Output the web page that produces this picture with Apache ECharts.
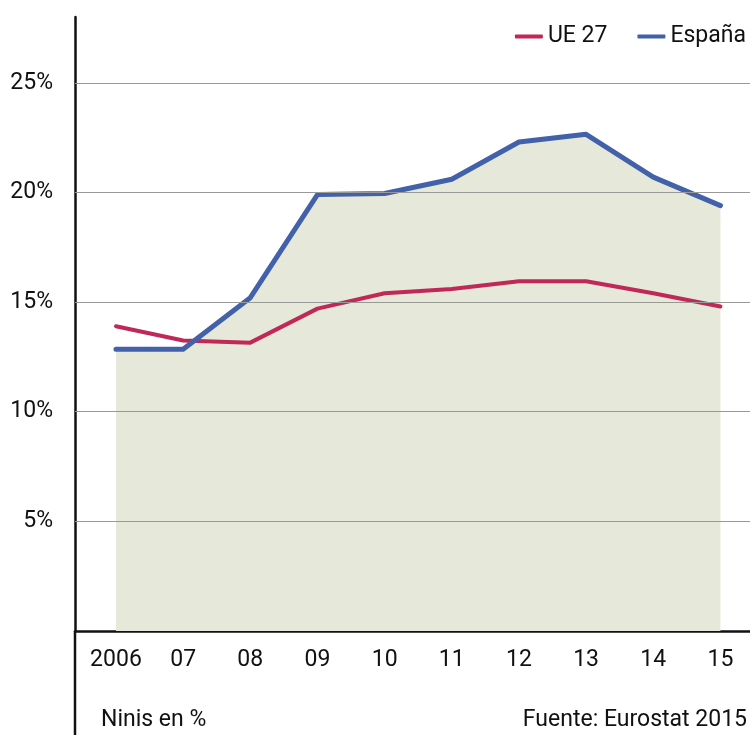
<!DOCTYPE html>
<html>
<head>
<meta charset="utf-8">
<script src="https://cdn.jsdelivr.net/npm/echarts@6/dist/echarts.min.js"></script>
<style>
  html, body { margin: 0; padding: 0; background: #fff; }
  #chart { width: 750px; height: 735px; }
</style>
</head>
<body>
<div id="chart"></div>
<script>
// Jóvenes que ni estudian ni trabajan (%), 2006-2015
const years = ['2006', '07', '08', '09', '10', '11', '12', '13', '14', '15'];
const ue27 = [13.9, 13.25, 13.15, 14.7, 15.4, 15.6, 15.95, 15.95, 15.4, 14.8];
const espana = [12.85, 12.85, 15.2, 19.9, 19.95, 20.6, 22.3, 22.65, 20.7, 19.4];
const yTicks = [5, 10, 15, 20, 25];

const FONT = "'Roboto', sans-serif";
const RED = '#c02857';
const BLUE = '#4261a8';
const FILL = '#e6e8da';
const X_MIN = -0.61;

const toPairs = arr => arr.map((v, i) => [i, v]);

const chart = echarts.init(document.getElementById('chart'), null, { renderer: 'canvas' });

chart.setOption({
  animation: false,
  textStyle: { fontFamily: FONT },
  grid: { left: 75, right: 0, top: 17, bottom: 104, containLabel: false },
  title: [
    { text: 'Ninis en %', left: 96, top: 704,
      textStyle: { fontFamily: FONT, fontSize: 23, fontWeight: 'normal', color: '#111' } },
    { text: 'Fuente: Eurostat 2015', right: -2, top: 704,
      textStyle: { fontFamily: FONT, fontSize: 23, fontWeight: 'normal', color: '#111' } }
  ],
  legend: {
    data: ['UE 27', 'España'],
    right: -1, top: 20,
    itemWidth: 28, itemHeight: 4, itemGap: 30,
    icon: 'roundRect',
    textStyle: { fontFamily: FONT, fontSize: 23, color: '#111', padding: [0, 0, 0, 0] }
  },
  xAxis: {
    type: 'value',
    min: X_MIN, max: 9.44,
    axisLine: { show: true, onZero: false, lineStyle: { color: '#111', width: 2.5 } },
    axisTick: { show: false },
    splitLine: { show: false },
    axisLabel: {
      customValues: years.map((_, i) => i),
      formatter: v => years[Math.round(v)],
      fontFamily: FONT, fontSize: 23, color: '#111', margin: 18
    }
  },
  yAxis: {
    type: 'value',
    min: 0, max: 28,
    axisLine: { show: true, onZero: false, lineStyle: { color: '#111', width: 2.5 } },
    axisTick: { show: false },
    splitLine: { show: false },
    axisLabel: {
      customValues: yTicks,
      formatter: v => v + '%',
      fontFamily: FONT, fontSize: 23, color: '#111', margin: 22
    }
  },
  series: [
    {
      // shaded band under the Spanish series
      name: 'España', type: 'line', z: 1,
      data: toPairs(espana), symbol: 'none', silent: true,
      itemStyle: { color: BLUE },
      lineStyle: { width: 0 },
      areaStyle: { color: FILL, opacity: 1 },
      markLine: {
        silent: true, symbol: 'none', label: { show: false },
        lineStyle: { color: '#999', width: 1.2, type: 'solid' },
        data: yTicks.map(v => ({ yAxis: v }))
      }
    },
    {
      name: 'UE 27', type: 'line', z: 3,
      data: toPairs(ue27), symbol: 'none',
      itemStyle: { color: RED },
      lineStyle: { color: RED, width: 4, cap: 'round', join: 'round' }
    },
    {
      name: 'España', type: 'line', z: 4,
      data: toPairs(espana), symbol: 'none',
      itemStyle: { color: BLUE },
      lineStyle: { color: BLUE, width: 5, cap: 'round', join: 'round' }
    }
  ]
});

// the vertical axis rule continues down past the category labels
const origin = chart.convertToPixel({ gridIndex: 0 }, [X_MIN, 0]);
chart.setOption({
  graphic: [{
    type: 'line', silent: true,
    shape: { x1: origin[0], y1: origin[1], x2: origin[0], y2: 735 },
    style: { stroke: '#111', lineWidth: 2.5 }
  }]
});
</script>
</body>
</html>
